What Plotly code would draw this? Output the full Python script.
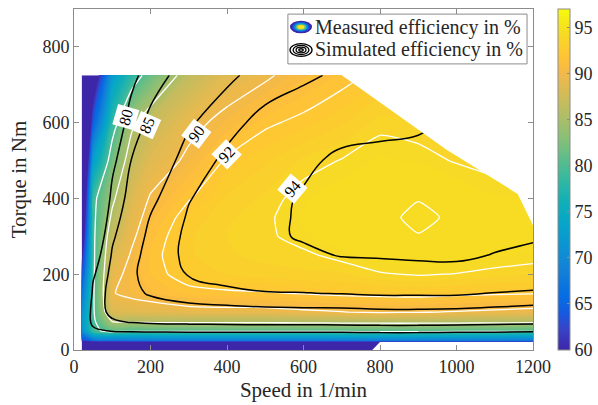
import plotly.graph_objects as go

# ---------------------------------------------------------------------------
# Operating grid
# ---------------------------------------------------------------------------
speed = [20, 50, 100, 150, 200, 300, 400, 500, 600, 700, 800, 900, 1000, 1100, 1200]   # 1/min
torque = [0, 25, 50, 75, 100, 150, 200, 250, 300, 350, 400, 500, 600, 725]            # Nm

# Measured efficiency in % (rows: torque, columns: speed)
eta_measured = [
    [0, 0, 0, 0, 0, 0, 0, 0, 0, 0, 0, 0, 0, 0, 0],
    [62.0, 66.5, 67.5, 67.8, 68.0, 68.0, 68.0, 68.0, 68.0, 68.1, 68.2, 68.2, 68.1, 68.0, 67.8],
    [70.0, 79.3, 81.0, 80.3, 80.4, 80.5, 80.5, 80.5, 80.5, 80.6, 80.7, 80.7, 80.6, 80.5, 80.4],
    [71.5, 79.3, 85.0, 85.3, 85.5, 85.6, 85.6, 85.6, 85.7, 85.8, 85.9, 85.9, 85.8, 85.7, 85.6],
    [70.5, 79.5, 88.3, 88.7, 88.9, 89.3, 89.4, 89.4, 89.7, 89.95, 90.2, 90.1, 89.9, 89.7, 89.5],
    [67.0, 79.5, 89.9, 90.5, 90.9, 91.6, 91.8, 91.9, 92.1, 92.3, 92.4, 92.5, 92.3, 92.2, 92.1],
    [63.0, 79.4, 89.3, 90.6, 91.5, 92.6, 93.0, 93.2, 93.4, 93.4, 93.9, 94.1, 93.95, 93.7, 93.5],
    [59.0, 79.3, 88.2, 90.2, 91.6, 92.9, 93.4, 93.7, 93.8, 94.3, 94.8, 95.2, 95.0, 94.6, 94.4],
    [55.0, 79.3, 87.0, 89.6, 91.3, 92.9, 93.5, 93.8, 94.4, 95.0, 95.2, 95.9, 95.3, 95.0, 94.8],
    [51.5, 79.2, 85.6, 89.0, 90.8, 92.6, 93.4, 93.8, 94.6, 95.2, 95.4, 96.5, 95.6, 95.1, 94.9],
    [48.5, 79.0, 84.4, 88.4, 90.2, 91.9, 93.1, 93.6, 94.4, 95.0, 95.1, 95.9, 95.2, 94.6, 94.6],
    [43.0, 73.0, 81.9, 86.5, 88.7, 90.4, 92.2, 92.9, 93.6, 94.05, 94.6, 94.4, 93.9, 93.6, 93.5],
    [38.0, 64.5, 78.4, 84.4, 86.9, 89.4, 90.6, 91.8, 92.3, 92.9, 93.7, 93.5, 93.2, 92.9, 92.8],
    [31.0, 55.0, 72.5, 78.0, 81.5, 86.5, 88.8, 89.7, 90.9, 91.6, 92.3, 92.5, 92.3, 92.0, 92.0],
]

# Simulated efficiency in % (same grid)
eta_simulated = [
    [0, 0, 0, 0, 0, 0, 0, 0, 0, 0, 0, 0, 0, 0, 0],
    [66.3, 68.2, 68.8, 69.1, 69.2, 69.3, 69.3, 69.3, 69.3, 69.3, 69.7, 69.7, 69.4, 69.0, 68.4],
    [73.7, 78.6, 80.3, 80.9, 81.2, 81.5, 81.6, 81.6, 81.7, 81.7, 82.0, 82.0, 81.7, 81.4, 81.0],
    [73.9, 81.7, 84.4, 85.5, 85.9, 86.3, 86.5, 86.7, 86.7, 86.8, 87.0, 87.0, 86.8, 86.6, 86.3],
    [72.2, 82.4, 86.2, 87.7, 88.3, 88.9, 89.1, 89.3, 89.4, 89.4, 89.6, 89.6, 89.5, 89.3, 89.0],
    [67.3, 81.3, 87.1, 89.3, 90.3, 91.2, 91.6, 91.9, 91.95, 92.1, 92.3, 92.3, 92.3, 91.95, 91.8],
    [62.3, 79.2, 86.6, 89.6, 90.9, 92.1, 92.7, 93.1, 93.2, 93.4, 93.5, 93.5, 93.6, 93.3, 93.1],
    [57.8, 76.7, 85.5, 89.2, 90.9, 92.4, 93.1, 93.6, 93.8, 94.05, 94.1, 94.2, 94.2, 93.95, 93.8],
    [53.7, 74.1, 84.3, 88.6, 90.6, 92.4, 93.2, 93.8, 94.1, 94.3, 94.4, 94.5, 94.6, 94.3, 94.1],
    [50.2, 71.7, 82.9, 87.8, 90.1, 92.2, 93.2, 93.8, 94.1, 94.4, 94.5, 94.6, 94.7, 94.4, 94.2],
    [47.0, 69.3, 81.5, 86.9, 89.5, 91.9, 93.0, 93.7, 94.1, 94.4, 94.5, 94.6, 94.8, 94.4, 94.2],
    [41.7, 64.9, 78.6, 85.1, 88.1, 91.0, 92.4, 93.4, 93.8, 94.2, 94.3, 94.4, 94.6, 94.2, 93.95],
    [36.4, 59.8, 75.0, 82.5, 86.2, 89.7, 91.4, 92.6, 93.1, 93.6, 93.7, 93.8, 94.2, 93.8, 93.4],
    [29.7, 52.5, 69.3, 78.3, 82.8, 87.3, 89.5, 91.0, 91.7, 92.3, 92.5, 92.6, 93.0, 92.4, 92.1],
]

# Operating limits (no measurement beyond them)
limit_speed = [700, 790, 975, 1160, 1200, 1215, 1215, 700]
limit_torque = [725, 660, 528, 412, 329, 329, 740, 740]
gap_speed = [775, 800, 1215, 1215]
gap_torque = [-5, 21, 21, -5]

measured_levels = [80, 85, 90, 92, 94, 96]
simulated_levels = [80, 85, 90, 92, 94]

# Inline labels on the simulated contours
label_text = ["80", "85", "90", "92", "94"]
label_speed = [137, 192, 320, 399, 571]
label_torque = [615, 594, 572, 515, 427]
label_angle = [-74, -66, -53, -46, -50]

color_ticks = [60, 65, 70, 75, 80, 85, 90, 95]

parula = [
    [0.000, "rgb(62,38,168)"],
    [0.063, "rgb(55,68,200)"],
    [0.111, "rgb(20,92,225)"],
    [0.159, "rgb(6,109,226)"],
    [0.238, "rgb(20,129,214)"],
    [0.302, "rgb(12,147,210)"],
    [0.365, "rgb(6,164,202)"],
    [0.429, "rgb(15,174,185)"],
    [0.492, "rgb(46,183,164)"],
    [0.556, "rgb(89,189,140)"],
    [0.619, "rgb(135,191,119)"],
    [0.683, "rgb(174,190,103)"],
    [0.746, "rgb(209,187,89)"],
    [0.810, "rgb(241,185,74)"],
    [0.841, "rgb(253,190,61)"],
    [0.873, "rgb(254,200,50)"],
    [0.921, "rgb(247,216,38)"],
    [0.968, "rgb(245,235,24)"],
    [1.000, "rgb(249,251,14)"],
]
# Fill palette: same map, held constant above ~94.5 %
parula_fill = [s for s in parula if s[0] <= 0.921] + [
    [0.932, "rgb(247,220,35)"],
    [1.000, "rgb(247,220,35)"],
]

SERIF = "Liberation Serif, Times New Roman, serif"
TXT = "#262626"
FRAME = "#8c8c8c"

fig = go.Figure()

# Filled map of the measured efficiency
fig.add_trace(go.Contour(
    x=speed, y=torque, z=eta_measured,
    zmin=60, zmax=97, zauto=False, colorscale=parula_fill,
    autocontour=False,
    contours=dict(start=60, end=97, size=0.5, coloring="fill", showlines=False),
    line=dict(width=0, smoothing=1.0),
    showscale=False, hoverinfo="skip",
))

# Measured iso-efficiency lines (white)
for lv in measured_levels:
    fig.add_trace(go.Contour(
        x=speed, y=torque, z=eta_measured,
        autocontour=False,
        contours=dict(start=lv, end=lv, size=1, coloring="none"),
        line=dict(color="white", width=1.3, smoothing=0.45),
        showscale=False, hoverinfo="skip",
    ))

# Simulated iso-efficiency lines (black)
for lv in simulated_levels:
    fig.add_trace(go.Contour(
        x=speed, y=torque, z=eta_simulated,
        autocontour=False,
        contours=dict(start=lv, end=lv, size=1, coloring="none"),
        line=dict(color="black", width=1.5, smoothing=1.3),
        showscale=False, hoverinfo="skip",
    ))

# Blank out the area outside the operating range
for xs, ys in ((limit_speed, limit_torque), (gap_speed, gap_torque)):
    fig.add_trace(go.Scatter(
        x=xs, y=ys, mode="lines", fill="toself", fillcolor="white",
        line=dict(width=0, color="white"), hoverinfo="skip", showlegend=False,
    ))

# Colour bar
fig.add_trace(go.Scatter(
    x=[None], y=[None], mode="markers", showlegend=False, hoverinfo="skip",
    marker=dict(
        colorscale=parula, cmin=60, cmax=97, color=[60], showscale=True,
        colorbar=dict(
            x=1.054, xanchor="left", xpad=0, y=0.5, yanchor="middle", ypad=0,
            len=1.0, lenmode="fraction", thickness=12,
            outlinecolor=FRAME, outlinewidth=1,
            tickvals=color_ticks, ticks="inside", ticklen=3, tickcolor=FRAME,
            tickfont=dict(family=SERIF, size=18, color=TXT),
        ),
    ),
))

# Contour labels
for t, sx, ty, ang in zip(label_text, label_speed, label_torque, label_angle):
    fig.add_annotation(
        x=sx, y=ty, xref="x", yref="y", text=t, showarrow=False,
        textangle=ang, bgcolor="white", borderpad=2,
        font=dict(family=SERIF, size=16, color="black"),
    )

# Legend box
shapes = [dict(type="rect", xref="paper", yref="paper", x0=0.466, x1=0.987, y0=0.839, y1=0.985,
               line=dict(color=FRAME, width=1), fillcolor="white", layer="above")]
cx, cy1, cy2 = 0.4946, 0.9472, 0.8798
rx, ry = 0.0240, 0.0185
for s, col in ((1.0, "rgb(62,38,168)"), (0.8, "rgb(20,92,225)"), (0.62, "rgb(6,164,202)"),
               (0.45, "rgb(135,191,119)"), (0.3, "rgb(249,230,20)")):
    shapes.append(dict(type="circle", xref="paper", yref="paper",
                       x0=cx - rx * s, x1=cx + rx * s, y0=cy1 - ry * s, y1=cy1 + ry * s,
                       line=dict(width=0), fillcolor=col, layer="above"))
for s in (1.0, 0.72, 0.45, 0.2):
    shapes.append(dict(type="circle", xref="paper", yref="paper",
                       x0=cx - rx * s, x1=cx + rx * s, y0=cy2 - ry * s, y1=cy2 + ry * s,
                       line=dict(width=1.3, color="black"), fillcolor="rgba(0,0,0,0)", layer="above"))

for txt, yy in (("Measured efficiency in %", cy1), ("Simulated efficiency in %", cy2)):
    fig.add_annotation(x=0.5207, y=yy, xref="paper", yref="paper", xanchor="left", yanchor="middle",
                       text=txt, showarrow=False, font=dict(family=SERIF, size=20, color=TXT))

axis_common = dict(
    showline=True, linecolor=FRAME, linewidth=1, mirror="ticks",
    ticks="inside", ticklen=5, tickcolor=FRAME, showgrid=False, zeroline=False,
    tickfont=dict(family=SERIF, size=18, color=TXT),
)

fig.update_layout(
    width=598, height=405,
    margin=dict(l=74, r=65, t=9, b=55, autoexpand=False),
    paper_bgcolor="white", plot_bgcolor="white",
    showlegend=False,
    shapes=shapes,
    xaxis=dict(range=[0, 1200], tickvals=[0, 200, 400, 600, 800, 1000, 1200],
               title=dict(text="Speed in 1/min", font=dict(family=SERIF, size=21, color=TXT), standoff=6),
               **axis_common),
    yaxis=dict(range=[0, 900], tickvals=[0, 200, 400, 600, 800],
               title=dict(text="Torque in Nm", font=dict(family=SERIF, size=21, color=TXT), standoff=10),
               **axis_common),
)

fig.write_html("out.html")
